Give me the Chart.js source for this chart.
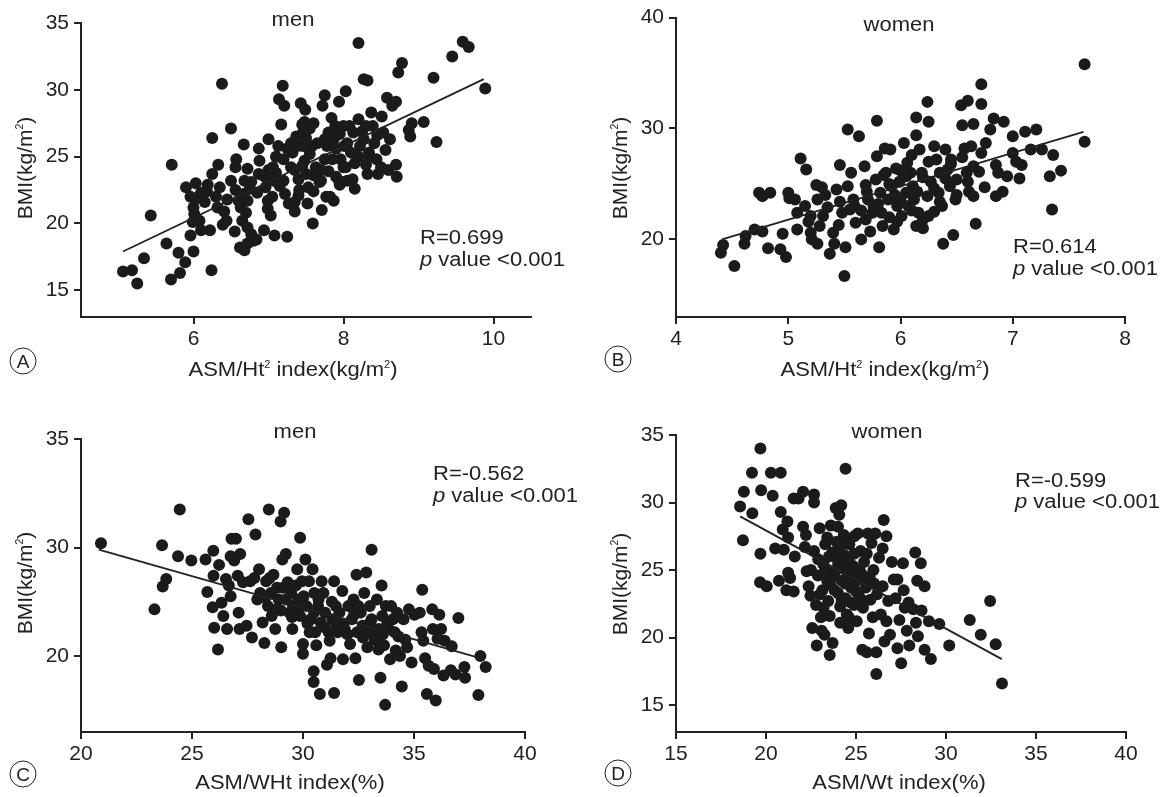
<!DOCTYPE html>
<html><head><meta charset="utf-8">
<script src="https://cdn.jsdelivr.net/npm/chart.js@4.4.0/dist/chart.umd.min.js"></script>
<style>
html,body{margin:0;padding:0;background:#fff;}
body{width:1164px;height:797px;position:relative;overflow:hidden;font-family:"Liberation Sans",Arial,sans-serif;color:#222;}
canvas{position:absolute;left:0;top:0;}
.t{position:absolute;white-space:nowrap;font-size:20px;line-height:1;transform:translate(-50%,-50%) scaleX(1.1);}
.l{position:absolute;white-space:nowrap;font-size:20px;line-height:1;transform:translateY(-50%) scaleX(1.1);transform-origin:0 50%;}
.rot{font-size:21px;transform:translate(-50%,-50%) rotate(-90deg);}
.circ{position:absolute;width:25px;height:25px;border:1.5px solid #222;border-radius:50%;transform:translate(-50%,-50%);text-align:center;line-height:26px;font-size:19px;}
sup{font-size:0.5em;position:relative;top:-0.85em;vertical-align:baseline;}
</style>
</head><body>
<canvas id="cA" width="1164" height="797"></canvas>
<canvas id="cB" width="1164" height="797"></canvas>
<canvas id="cC" width="1164" height="797"></canvas>
<canvas id="cD" width="1164" height="797"></canvas>

<div class="t" style="left:293px;top:19px">men</div>
<div class="t rot" style="left:24px;top:168px">BMI(kg/m<sup>2</sup>)</div>
<div class="t" style="left:293px;top:369px">ASM/Ht<sup>2</sup> index(kg/m<sup>2</sup>)</div>
<div class="l" style="left:420px;top:237px">R=0.699</div>
<div class="l" style="left:420px;top:259px"><i>p</i> value &lt;0.001</div>
<div class="circ" style="left:23px;top:361px">A</div>

<div class="t" style="left:899px;top:24px">women</div>
<div class="t rot" style="left:619px;top:168px">BMI(kg/m<sup>2</sup>)</div>
<div class="t" style="left:885px;top:369px">ASM/Ht<sup>2</sup> index(kg/m<sup>2</sup>)</div>
<div class="l" style="left:1013px;top:246px">R=0.614</div>
<div class="l" style="left:1013px;top:268px"><i>p</i> value &lt;0.001</div>
<div class="circ" style="left:618px;top:359px">B</div>

<div class="t" style="left:295px;top:431px">men</div>
<div class="t rot" style="left:24px;top:583px">BMI(kg/m<sup>2</sup>)</div>
<div class="t" style="left:290px;top:782px">ASM/WHt index(%)</div>
<div class="l" style="left:433px;top:473px">R=-0.562</div>
<div class="l" style="left:433px;top:495px"><i>p</i> value &lt;0.001</div>
<div class="circ" style="left:23px;top:774px">C</div>

<div class="t" style="left:887px;top:431px">women</div>
<div class="t rot" style="left:619px;top:584px">BMI(kg/m<sup>2</sup>)</div>
<div class="t" style="left:899px;top:782px">ASM/Wt index(%)</div>
<div class="l" style="left:1015px;top:480px">R=-0.599</div>
<div class="l" style="left:1015px;top:501px"><i>p</i> value &lt;0.001</div>
<div class="circ" style="left:618px;top:773px">D</div>

<script>
// ---------- DATA ----------
const menHt2Points = [
[5.06,16.4],[5.18,16.5],[5.25,15.5],[5.34,17.4],[5.43,20.6],[5.64,18.5],[5.70,15.8],[5.71,24.4],[5.80,17.8],[5.82,16.3],[5.89,17.1],[6.00,17.9],[5.96,19.1],[6.24,16.5],[6.38,30.45],[6.25,26.4],[6.50,27.1],[6.33,24.4],[6.25,23.7],
[5.90,22.7],[5.96,22.0],[6.03,23.0],[6.00,21.2],[6.01,20.7],[5.99,20.1],[6.08,20.2],[6.10,19.5],[6.22,19.5],[6.18,22.4],[6.10,22.3],[6.19,22.9],[6.35,22.7],[6.32,21.2],[6.41,20.9],[6.44,20.2],[6.39,19.9],[6.55,19.4],[6.50,23.2],[6.56,22.5],[6.57,24.8],[6.56,24.2],[6.67,25.9],[6.72,24.1],[6.77,23.1],[6.68,23.2],[6.67,22.2],[6.72,21.7],[6.63,21.2],[6.70,20.8],[6.65,20.2],[6.72,19.7],[6.77,19.2],[6.62,18.2],[6.68,18.0],[6.72,18.5],[6.80,18.7],[6.84,18.8],[6.87,23.7],[6.87,25.6],[6.88,24.7],[6.94,19.5],[7.00,26.3],[6.96,22.7],[6.99,21.7],[6.99,21.1],[7.03,20.6],[7.08,19.1],[7.07,23.2],[7.06,24.2],[7.10,25.0],[7.13,25.8],[7.17,27.4],[7.19,30.3],[7.14,29.3],[7.21,28.8],[7.20,23.2],[7.22,22.2],[7.27,21.5],[7.25,19.0],[7.30,24.2],[7.32,25.3],[7.37,26.5],[7.39,25.8],[7.35,20.9],[7.41,22.5],[7.43,29.0],[7.49,28.5],[7.48,27.6],[7.46,26.8],[7.46,25.8],[7.48,24.7],[7.50,23.7],[7.53,22.7],[7.52,21.5],[7.59,20.0],[7.58,25.8],[7.60,27.5],[7.63,24.2],[7.68,23.1],[7.71,21.0],[7.75,29.6],[7.72,28.8],[7.77,22.0],[7.82,22.0],[7.87,21.7],[7.80,26.8],[7.78,25.8],[7.75,24.8],[7.84,27.9],[7.89,27.3],[7.87,26.3],[7.94,23.2],[7.94,29.1],[8.03,29.9],[7.96,24.8],[8.01,25.8],[8.03,24.2],[8.05,23.2],[8.15,22.6],[8.08,27.3],[8.13,26.8],[8.20,33.5],[8.22,25.8],[8.20,25.0],[8.27,26.3],[8.27,30.8],[8.32,30.7],[8.30,24.4],[8.32,23.7],[8.34,25.3],[8.39,27.3],[8.37,28.3],[8.41,26.0],[8.44,24.8],[8.46,23.7],[8.51,28.0],[8.53,26.8],[8.56,25.5],[8.58,29.4],[8.60,24.0],[8.62,26.3],[8.65,28.8],[8.70,29.1],[8.70,24.4],[8.71,23.5],[8.73,31.3],[8.78,32.0],[8.87,27.0],[8.89,26.5],[8.91,27.5],[9.07,27.6],[9.20,30.9],[9.24,26.1],[9.45,32.5],[9.59,33.6],[9.67,33.2],[9.89,30.1],
[7.0,24.0],[7.1,23.8],[7.2,24.8],[7.25,25.6],[7.35,24.0],[7.4,23.3],[7.45,24.3],[7.55,25.2],[7.6,23.6],[7.65,26.0],[7.7,24.0],[7.75,26.3],[7.8,23.9],[7.85,24.8],[7.9,25.6],[7.95,26.7],[8.0,27.3],[8.05,26.0],[8.1,25.3],[8.15,24.5],[8.2,27.8],[8.25,26.9],[8.35,25.0],[8.45,26.6],[8.5,24.2],[8.3,27.3],[7.3,26.0],[7.5,26.4],[7.15,22.8],[7.05,22.0],[6.95,23.5],[6.85,22.3],[6.75,22.6],[6.6,21.7],[6.45,21.8],[6.3,22.0],[6.15,21.6],[6.05,21.9],[7.6,22.4],[7.7,23.2],[7.35,21.6],[7.4,22.1],[7.9,23.5],[8.0,24.2],[7.95,22.9],[7.55,27.1],[7.45,27.4],[8.12,23.3]
];
const menHt2Fit = [[5.06,17.9],[9.87,30.8]];

const womenHt2Points = [
[4.40,18.8],[4.42,19.5],[4.52,17.6],[4.62,20.3],[4.61,19.6],[4.70,20.9],[4.77,20.7],[4.74,24.2],[4.77,23.9],[4.84,24.2],[4.82,19.2],[4.93,19.1],[4.95,20.5],[4.98,18.4],[5.00,24.2],[5.01,23.7],[5.06,23.6],[5.08,22.4],[5.08,20.9],[5.11,27.3],[5.16,26.3],[5.15,23.0],[5.18,21.6],[5.20,20.6],[5.21,20.0],[5.25,24.9],[5.26,23.6],[5.28,21.2],[5.26,19.6],[5.31,22.1],[5.33,24.0],[5.37,18.7],[5.40,20.6],[5.41,19.6],[5.43,24.5],[5.46,23.4],[5.48,22.4],[5.46,26.7],[5.50,16.7],[5.51,19.3],[5.53,29.9],[5.56,26.0],[5.53,24.8],[5.58,23.6],[5.59,23.0],[5.63,29.3],[5.65,20.0],[5.68,26.6],[5.69,24.9],[5.71,23.6],[5.69,21.8],[5.73,20.7],[5.76,23.0],[5.78,25.4],[5.79,30.7],[5.79,27.5],[5.81,19.3],[5.82,24.2],[5.83,22.4],[5.84,21.2],[5.86,28.2],[5.87,26.0],[5.89,23.6],[5.91,28.1],[5.92,24.8],[5.94,20.9],[5.96,26.4],[5.97,23.0],[5.99,25.2],[6.01,22.1],[6.03,28.7],[6.05,24.2],[6.06,26.9],[6.07,23.0],[6.09,26.0],[6.11,24.8],[6.12,23.6],[6.14,31.0],[6.14,29.4],[6.14,21.2],[6.16,22.4],[6.17,28.1],[6.19,26.0],[6.20,21.0],[6.24,32.4],[6.25,30.6],[6.24,23.9],[6.25,22.1],[6.27,25.2],[6.30,28.4],[6.32,27.2],[6.34,24.2],[6.35,26.0],[6.37,23.0],[6.38,19.6],[6.40,28.1],[6.42,26.3],[6.44,24.8],[6.45,27.2],[6.47,20.4],[6.49,23.6],[6.50,25.4],[6.54,32.1],[6.55,30.3],[6.57,28.2],[6.59,26.0],[6.60,32.5],[6.61,24.3],[6.63,28.4],[6.65,30.4],[6.67,21.4],[6.65,26.6],[6.72,32.2],[6.72,34.0],[6.72,27.8],[6.76,28.7],[6.80,29.9],[6.83,30.9],[6.85,26.7],[6.85,23.9],[6.87,26.0],[6.91,24.3],[6.92,30.6],[6.95,25.7],[7.00,29.3],[7.00,27.8],[7.03,27.0],[7.06,25.5],[7.08,26.7],[7.11,29.7],[7.16,28.1],[7.21,29.9],[7.26,28.1],[7.33,25.7],[7.35,22.7],[7.36,27.6],[7.43,26.2],[7.64,35.8],[7.64,28.8],
[5.70,24.3],[5.75,22.4],[5.80,23.2],[5.85,25.8],[5.90,22.0],[5.95,24.0],[6.00,23.5],[6.05,25.7],[6.10,22.6],[6.15,24.3],[6.20,25.6],[6.25,27.0],[6.30,24.6],[6.35,23.4],[6.40,25.5],[6.45,26.8],[6.50,24.0],[6.55,27.4],[6.60,25.2],[6.65,23.9],[6.70,26.1],[6.75,24.7],[6.00,26.2],[5.90,25.0],[6.10,27.6],[5.65,22.6],[5.60,21.5],[5.55,22.7],[5.45,21.3],[5.35,22.9],[5.20,22.1],[5.30,24.7],[6.20,21.8],[6.30,22.5],[5.97,21.6]
];
const womenHt2Fit = [[4.41,20.0],[7.63,29.7]];

const menWHtPoints = [
[20.9,30.4],[23.31,24.3],[23.65,30.2],[23.68,26.4],[23.84,27.1],[24.37,29.2],[24.45,33.5],[24.97,28.8],[25.61,28.9],[25.69,25.9],[25.93,24.5],[25.96,29.7],[25.97,27.4],[26.0,22.6],[26.17,20.6],[26.22,28.4],[26.33,24.9],[26.41,23.7],[26.53,27.1],[26.58,22.5],[26.66,26.5],[26.74,25.5],[26.78,30.8],[26.74,29.2],[26.9,28.8],[26.98,30.8],[27.06,27.4],[27.1,24.0],[27.17,29.4],[27.14,22.5],[27.30,26.8],[27.46,22.8],[27.54,32.6],[27.62,26.9],[27.7,21.7],[27.81,27.2],[27.86,31.2],[27.94,25.2],[28.02,28.0],[28.07,25.8],[28.18,23.1],[28.26,21.2],[28.34,26.9],[28.42,24.6],[28.46,33.5],[28.55,25.8],[28.59,23.7],[28.67,27.5],[28.75,22.5],[28.83,26.3],[28.91,25.2],[28.99,32.4],[29.02,20.8],[29.07,28.9],[29.15,33.2],[29.23,29.4],[29.23,25.2],[29.31,26.8],[29.39,24.0],[29.47,25.8],[29.52,22.5],[29.55,24.6],[29.68,26.5],[29.74,28.0],[29.79,25.2],[29.87,30.9],[29.87,23.7],[29.95,26.9],[30.0,21.1],[30.0,20.2],[30.03,25.5],[30.11,28.9],[30.16,24.6],[30.27,26.9],[30.35,23.4],[30.43,28.0],[30.48,18.6],[30.48,17.6],[30.51,25.8],[30.55,22.2],[30.6,21.0],[30.68,24.6],[30.76,16.5],[30.8,23.1],[30.84,26.9],[30.92,25.8],[31.0,24.0],[31.08,19.2],[31.16,22.2],[31.24,19.8],[31.32,23.4],[31.40,26.9],[31.40,16.6],[31.48,24.6],[31.56,22.2],[31.64,24.0],[31.77,26.0],[31.8,19.7],[31.88,22.5],[32.04,24.6],[32.12,21.1],[32.2,23.4],[32.28,25.2],[32.36,19.8],[32.41,27.5],[32.44,22.2],[32.52,17.8],[32.6,24.0],[32.68,22.8],[32.76,25.8],[32.85,27.7],[32.93,22.2],[33.01,24.6],[33.09,29.8],[33.09,23.4],[33.22,21.5],[33.33,25.2],[33.41,22.5],[33.49,18.0],[33.54,26.5],[33.57,23.7],[33.65,21.0],[33.7,15.5],[33.73,24.6],[33.86,22.5],[33.92,19.7],[33.97,24.6],[34.05,23.4],[34.13,22.2],[34.18,20.5],[34.24,24.0],[34.37,20.0],[34.45,17.2],[34.53,23.4],[34.61,21.5],[34.69,20.8],[34.77,24.3],[34.89,19.4],[35.02,23.8],[35.26,24.0],[35.34,22.2],[35.37,26.1],[35.42,21.4],[35.5,19.8],[35.58,16.5],[35.66,19.1],[35.82,24.3],[35.85,22.5],[35.9,18.8],[35.98,15.9],[36.06,21.6],[36.14,23.8],[36.22,22.5],[36.33,18.2],[36.38,21.4],[36.66,18.7],[36.7,20.9],[36.87,18.3],[37.0,23.5],[37.27,19.0],[37.3,18.0],[37.9,16.4],[37.99,20.0],[38.23,19.0],
[29.0,24.2],[29.5,23.6],[30.2,23.0],[30.5,24.0],[31.0,22.6],[31.3,25.0],[31.8,23.0],[32.0,22.0],[32.3,23.8],[32.7,21.7],[33.0,23.0],[33.3,21.8],[33.6,22.0],[28.3,25.4],[28.8,24.3],[29.8,24.4],[30.3,22.2],[31.5,23.0],[32.5,24.6],[33.8,23.0],[34.3,21.8],[28.5,27.2],[29.1,26.3],[30.7,25.2],[31.2,21.4],[32.9,20.8],[33.4,20.6]
];
const menWHtFit = [[20.8,29.8],[37.9,19.85]];

const womenWtPoints = [
[18.56,29.7],[18.77,30.8],[18.72,27.2],[19.22,32.2],[19.24,29.2],[19.69,34.0],[19.73,30.9],[19.69,26.2],[19.67,24.1],[20.04,23.8],[20.27,32.2],[20.37,30.5],[20.51,26.6],[20.72,24.2],[20.82,32.2],[20.82,29.3],[20.93,28.0],[20.99,26.5],[21.13,23.5],[21.19,28.6],[21.23,27.4],[21.23,24.8],[21.34,24.4],[21.54,23.4],[21.6,26.0],[21.54,30.3],[21.81,30.3],[22.06,30.8],[22.06,28.2],[22.16,26.7],[22.22,27.6],[22.26,24.9],[22.37,23.8],[22.47,23.1],[22.57,20.7],[22.67,30.6],[22.67,30.0],[22.67,26.4],[22.78,22.4],[22.82,19.4],[22.88,24.6],[22.98,28.1],[23.05,21.5],[23.09,20.5],[23.13,23.5],[23.19,25.4],[23.25,20.2],[23.29,26.9],[23.4,24.2],[23.46,22.7],[23.54,21.6],[23.54,18.7],[23.6,28.3],[23.66,24.8],[23.7,19.6],[23.7,26.3],[23.81,23.5],[23.87,29.6],[23.91,27.1],[24.01,25.4],[24.07,29.1],[24.12,22.3],[24.12,21.1],[24.18,29.8],[24.22,24.2],[24.32,27.6],[24.36,26.1],[24.42,32.5],[24.42,22.9],[24.49,21.7],[24.53,24.7],[24.57,20.7],[24.63,26.9],[24.73,23.7],[24.84,25.3],[24.9,22.4],[24.94,24.1],[25.04,21.2],[25.1,27.7],[25.14,23.2],[25.25,26.4],[25.31,24.7],[25.35,19.1],[25.39,22.2],[25.45,25.6],[25.55,23.7],[25.6,18.9],[25.66,27.7],[25.72,20.3],[25.76,24.5],[25.86,27.0],[25.93,21.5],[25.97,25.0],[26.07,27.7],[26.13,18.9],[26.17,23.2],[26.13,17.3],[26.28,25.9],[26.38,21.7],[26.48,26.6],[26.48,23.8],[26.54,28.7],[26.58,19.7],[26.69,27.5],[26.69,21.2],[26.79,22.7],[26.89,20.2],[26.99,25.6],[27.1,24.3],[27.2,22.9],[27.3,19.2],[27.3,24.3],[27.41,21.3],[27.51,18.1],[27.61,25.5],[27.65,23.5],[27.71,22.2],[27.82,20.5],[27.92,22.6],[27.96,19.4],[28.19,22.1],[28.29,26.3],[28.33,21.1],[28.4,24.2],[28.44,20.1],[28.6,25.5],[28.64,22.0],[28.81,23.8],[28.81,19.1],[29.05,21.2],[29.16,18.4],[29.63,21.0],[30.18,19.4],[31.32,21.3],[31.93,20.2],[32.45,22.7],[32.76,19.5],[33.11,16.6],
[23.3,25.0],[23.5,26.0],[23.6,23.9],[23.8,24.6],[23.9,25.9],[24.0,23.3],[24.1,26.6],[24.2,22.8],[24.3,25.1],[24.4,24.0],[24.5,27.0],[24.6,25.6],[24.7,22.6],[24.8,24.6],[24.9,26.2],[25.0,23.4],[25.2,25.0],[25.3,22.8],[25.5,24.2],[23.4,27.4],[24.0,28.2],[23.2,22.2],[24.6,21.5],[25.8,22.8],[26.0,24.0],[22.9,25.8],[22.5,25.0],[23.0,23.2],[24.9,27.5],[25.6,26.2]
];
const womenWtFit = [[18.56,28.97],[33.1,18.4]];

// axis ranges and ticks
const aXRange = [4.5, 10.5], aYRange = [13, 35];
const aXTicks = [6, 8, 10], aYTicks = [15, 20, 25, 30, 35];
const bXRange = [4, 8], bYRange = [13, 40];
const bXTicks = [4, 5, 6, 7, 8], bYTicks = [20, 30, 40];
const cXRange = [20, 40], cYRange = [13, 40];
const cXTicks = [20, 25, 30, 35, 40], cYTicks = [20, 30, 40];
const cYTickLabels = ['20', '30', '35'];
const dXRange = [15, 40], dYRange = [13, 35];
const dXTicks = [15, 20, 25, 30, 35, 40], dYTicks = [15, 20, 25, 30, 35];

// ---------- CHARTS ----------
const INK = '#222';
const FONT = {family: '"Liberation Sans", Arial, sans-serif', size: 21};
function makeChart(id, pts, fit, area, xr, yr, xt, yt, ytl) {
  const W = 1164, H = 797, Wy = 40, Hx = 40;
  new Chart(document.getElementById(id), {
    type: 'scatter',
    data: {datasets: [
      {type: 'line', data: fit.map(p => ({x: p[0], y: p[1]})), borderColor: INK, borderWidth: 1.8,
       pointRadius: 0, showLine: true, fill: false, clip: false, order: 1},
      {data: pts.map(p => ({x: p[0], y: p[1]})), pointRadius: 6, pointHoverRadius: 6,
       backgroundColor: '#1b1b1b', borderWidth: 0, clip: false, order: 2}
    ]},
    options: {
      responsive: false, animation: false, devicePixelRatio: 1, events: [],
      layout: {padding: {left: area.l - Wy, right: W - area.r, top: area.t, bottom: H - area.b - Hx}},
      plugins: {legend: {display: false}, tooltip: {enabled: false}},
      scales: {
        x: {type: 'linear', min: xr[0], max: xr[1],
            afterBuildTicks: s => { s.ticks = xt.map(v => ({value: v})); },
            afterFit: s => { s.height = Hx; },
            grid: {display: true, drawOnChartArea: false, drawTicks: true, tickLength: 7, color: INK, lineWidth: 2},
            border: {display: true, color: INK, width: 2},
            ticks: {font: FONT, color: INK, padding: 3, autoSkip: false, maxRotation: 0,
                    callback: v => String(v)}},
        y: {type: 'linear', min: yr[0], max: yr[1],
            afterBuildTicks: s => { s.ticks = yt.map(v => ({value: v})); },
            afterFit: s => { s.width = Wy; },
            grid: {display: true, drawOnChartArea: false, drawTicks: true, tickLength: 7, color: INK, lineWidth: 2},
            border: {display: true, color: INK, width: 2},
            ticks: {font: FONT, color: INK, padding: 5, autoSkip: false,
                    callback: (v, i) => ytl ? ytl[i] : String(v)}}
      }
    }
  });
}
makeChart('cA', menHt2Points, menHt2Fit, {l: 81, r: 531, t: 23, b: 317}, aXRange, aYRange, aXTicks, aYTicks, null);
makeChart('cB', womenHt2Points, womenHt2Fit, {l: 676, r: 1125, t: 17, b: 317}, bXRange, bYRange, bXTicks, bYTicks, null);
makeChart('cC', menWHtPoints, menWHtFit, {l: 81, r: 525, t: 439, b: 732}, cXRange, cYRange, cXTicks, cYTicks, cYTickLabels);
makeChart('cD', womenWtPoints, womenWtFit, {l: 676, r: 1126, t: 435, b: 732}, dXRange, dYRange, dXTicks, dYTicks, null);
</script>
</body></html>
